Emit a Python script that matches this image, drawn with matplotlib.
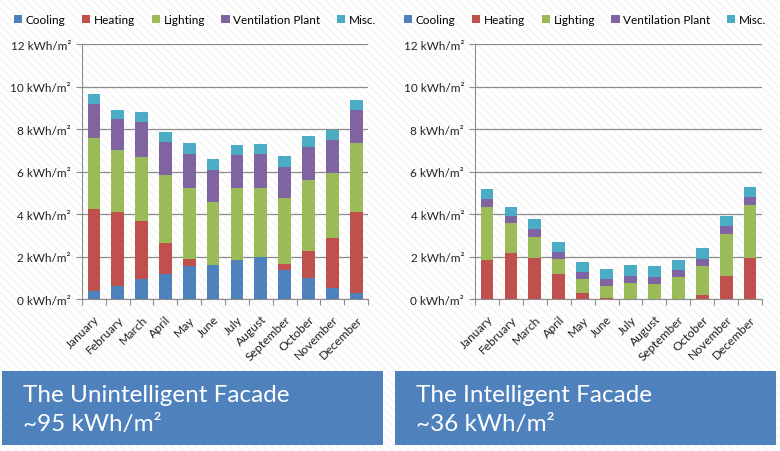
import matplotlib
matplotlib.use("Agg")
import matplotlib.pyplot as plt
from matplotlib.patches import Rectangle
import numpy as np

plt.rcParams['font.family'] = ['Lato', 'DejaVu Sans']

months = ["January", "February", "March", "April", "May", "June", "July",
          "August", "September", "October", "November", "December"]
series = ["Cooling", "Heating", "Lighting", "Ventilation Plant", "Misc."]
colors = ["#4F81BD", "#C0504D", "#9BBB59", "#8064A2", "#4BACC6"]
yticks = [0, 2, 4, 6, 8, 10, 12]

# unintelligent facade, kWh/m2 per month
u_cooling = [0.39, 0.63, 0.97, 1.19, 1.54, 1.61, 1.85, 2.00, 1.38, 1.00, 0.52, 0.27]
u_heating = [3.84, 3.47, 2.70, 1.46, 0.34, 0.00, 0.00, 0.00, 0.27, 1.26, 2.36, 3.83]
u_lighting = [3.37, 2.92, 3.04, 3.21, 3.37, 2.94, 3.37, 3.25, 3.10, 3.34, 3.08, 3.24]
u_vent = [1.57, 1.44, 1.63, 1.54, 1.60, 1.53, 1.55, 1.57, 1.49, 1.58, 1.52, 1.55]
u_misc = [0.50, 0.44, 0.48, 0.48, 0.49, 0.50, 0.50, 0.50, 0.48, 0.48, 0.48, 0.48]

# intelligent facade
i_cooling = [0, 0, 0, 0, 0, 0, 0, 0, 0, 0, 0, 0]
i_heating = [1.83, 2.19, 1.93, 1.18, 0.28, 0.05, 0.00, 0.00, 0.00, 0.19, 1.07, 1.93]
i_lighting = [2.50, 1.41, 0.99, 0.70, 0.66, 0.56, 0.75, 0.71, 1.03, 1.35, 1.99, 2.49]
i_vent = [0.37, 0.32, 0.37, 0.35, 0.35, 0.33, 0.36, 0.32, 0.35, 0.37, 0.39, 0.38]
i_misc = [0.47, 0.44, 0.50, 0.47, 0.47, 0.50, 0.49, 0.51, 0.45, 0.50, 0.47, 0.48]

titles = ["The Unintelligent Facade\n~95 kWh/m²", "The Intelligent Facade\n~36 kWh/m²"]

grid_col = "#8c8c8c"


def draw_chart(ax, data):
    x = np.arange(len(months))
    bottom = np.zeros(len(months))
    bars = []
    for vals, col, name in zip(data, colors, series):
        b = ax.bar(x, vals, 0.53, bottom=bottom, color=col, label=name, zorder=3)
        bars.append(b)
        bottom = bottom + np.array(vals)
    ax.set_facecolor("none")
    ax.set_xlim(-0.5, len(months) - 0.5)
    ax.set_ylim(0, 12)
    ax.set_yticks(yticks)
    ax.set_yticklabels([str(t) + " kWh/m²" for t in yticks], fontsize=8.5, color="#222222")
    ax.yaxis.grid(True, color=grid_col, linewidth=0.9, zorder=0)
    ax.set_xticks(np.arange(-0.5, len(months), 1.0))
    ax.set_xticklabels([])
    ax.set_xticks(x, minor=True)
    ax.set_xticklabels(months, minor=True, rotation=45, ha="right",
                       rotation_mode="anchor", fontsize=8.7, color="#222222")
    ax.tick_params(axis="x", which="major", length=4, color=grid_col, direction="out")
    ax.tick_params(axis="x", which="minor", length=0, pad=10)
    ax.tick_params(axis="y", length=4, color=grid_col, pad=4)
    for s in ["top", "right"]:
        ax.spines[s].set_visible(False)
    ax.spines["left"].set_color(grid_col)
    ax.spines["bottom"].set_color(grid_col)
    return bars


fig = plt.figure(figsize=(7.8, 4.52), dpi=100)
fig.patches.append(Rectangle((0, 0), 1, 1, transform=fig.transFigure, facecolor="white",
                             edgecolor="#f4f4f4", hatch="\\\\\\\\", linewidth=0, zorder=-10))

ax1 = fig.add_axes([0.105, 0.336, 0.367, 0.564])
ax2 = fig.add_axes([0.609, 0.336, 0.368, 0.564])

h = draw_chart(ax1, [u_cooling, u_heating, u_lighting, u_vent, u_misc])
draw_chart(ax2, [i_cooling, i_heating, i_lighting, i_vent, i_misc])

for cx in [0.25, 0.75]:
    fig.legend(h, series, loc="center", bbox_to_anchor=(cx, 0.954), ncol=5, frameon=False,
               fontsize=8.5, handlelength=0.7, handleheight=0.7, handletextpad=0.3,
               columnspacing=1.4)

# blue caption boxes
for x0, t in zip([0.003, 0.507], titles):
    fig.patches.append(Rectangle((x0, 0.013), 0.488, 0.164, transform=fig.transFigure,
                                 facecolor="#4F81BD", edgecolor="none", zorder=1))
    fig.text(x0 + 0.026, 0.093, t, color="white", fontsize=17.5, va="center",
             linespacing=1.5, zorder=2)

fig.savefig("out.png", dpi=100)
